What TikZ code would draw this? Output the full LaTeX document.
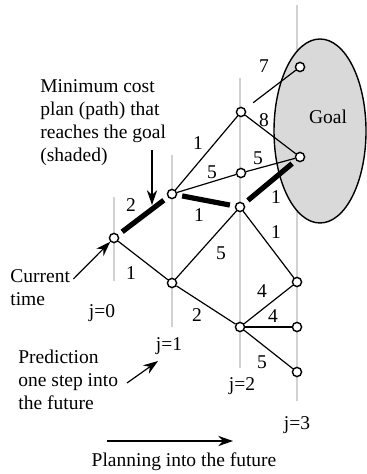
\documentclass[tikz,border=0pt]{standalone}
\usepackage{fontspec}
\setmainfont{Liberation Serif}
\usepackage{tikz}
\usetikzlibrary{arrows.meta,positioning,calc}

\tikzset{
  vtx/.style={circle,draw,fill=white,line width=0.7pt,inner sep=0pt,minimum size=4.6pt},
  cost/.style={inner sep=0pt},
  txt/.style={inner sep=0pt,align=left,anchor=west},
  thin/.style={line width=0.6pt},
  best/.style={line width=2.6pt,shorten <=2.5pt,shorten >=2.5pt},
  stage/.style={gray!35,line width=0.8pt},
  pointer/.style={line width=0.6pt,-{Stealth[length=2.6mm,width=1.8mm]}}
}

\begin{document}
\begin{tikzpicture}[x=0.5pt,y=-0.5pt,font=\fontsize{9.75}{11.5}\selectfont]
  \useasboundingbox (0,0) rectangle (367,474);

  \draw[stage] (114,197)--(114,281);
  \draw[stage] (172,155)--(172,327);
  \draw[stage] (240,78)--(240,368);
  \draw[stage] (297,5)--(297,401);

  \draw[fill=gray!30,line width=0.7pt] (320,131) ellipse [x radius=46,y radius=92];
  \node[cost] (goal) at (328,117) {Goal};

  \node[vtx] (n0) at (114,238) {};
  \node[vtx] (n1a) at (172,194) {};
  \node[vtx] (n1b) at (172,283) {};
  \node[vtx] (n2a) at (241,112) {};
  \node[vtx] (n2b) at (241,173) {};
  \node[vtx] (n2c) at (240,207) {};
  \node[vtx] (n2d) at (240,327) {};
  \node[vtx] (n3a) at (300,67) {};
  \node[vtx] (n3b) at (300,157) {};
  \node[vtx] (n3c) at (297,282) {};
  \node[vtx] (n3d) at (297,327) {};
  \node[vtx] (n3e) at (297,372) {};

  \draw[best] (n0)--(n1a);
  \draw[best] (n1a)--(n2c);
  \draw[best] (n2c)--(n3b);
  \draw[thin] (n0)--(n1b);
  \draw[thin] (n1a)--(n2a);
  \draw[thin] (n1a)--(n2b);
  \draw[thin] (n1b)--(n2c);
  \draw[thin] (n1b)--(n2d);
  \draw[thin,shorten <=5pt] (n2a)--(n3a);
  \draw[thin] (n2a)--(n3b);
  \draw[thin] (n2b)--(n3b);
  \draw[thin] (n2c)--(n3c);
  \draw[thin] (n2d)--(n3c);
  \draw[thin] (n2d)--(n3d);
  \draw[thin] (n2d)--(n3e);

  \node[cost] (c01a) at (131,205) {2};
  \node[cost] (c01b) at (131,273) {1};
  \node[cost] (c1a2a) at (198,143) {1};
  \node[cost] (c1a2b) at (212,172) {5};
  \node[cost] (c1a2c) at (199,215) {1};
  \node[cost] (c1b2c) at (221,253) {5};
  \node[cost] (c1b2d) at (197,315) {2};
  \node[cost] (c2a3a) at (264,66) {7};
  \node[cost] (c2a3b) at (264,120) {8};
  \node[cost] (c2b3b) at (258,158) {5};
  \node[cost] (c2c3b) at (276,197) {1};
  \node[cost] (c2c3c) at (276,232) {1};
  \node[cost] (c2d3c) at (262,291) {4};
  \node[cost] (c2d3d) at (273,316) {4};
  \node[cost] (c2d3e) at (262,362) {5};

  \node[cost] (j0) at (102,313) {j=0};
  \node[cost] (j1) at (169,346) {j=1};
  \node[cost] (j2) at (242,386) {j=2};
  \node[cost] (j3) at (297,425) {j=3};

  \node[txt] (mincost) at (40,123) {Minimum cost\\plan (path) that\\reaches the goal\\(shaded)};
  \coordinate (onpath) at (152,205);
  \draw[pointer] (152,150)--(onpath);

  \node[txt] (current) at (10,288) {Current\\time};
  \draw[pointer] (current.east|-0,279) ++(3,0) coordinate (cur0) -- (n0);

  \node[txt] (predict) at (18,380) {Prediction\\one step into\\the future};
  \coordinate (predtip) at (158,361);
  \draw[pointer] (127,383)--(predtip);

  \coordinate (planA) at (107,441);
  \coordinate (planB) at (233,441);
  \draw[pointer] (planA)--(planB);
  \node[cost] (planning) at (184,462) {Planning into the future};
\end{tikzpicture}
\end{document}
